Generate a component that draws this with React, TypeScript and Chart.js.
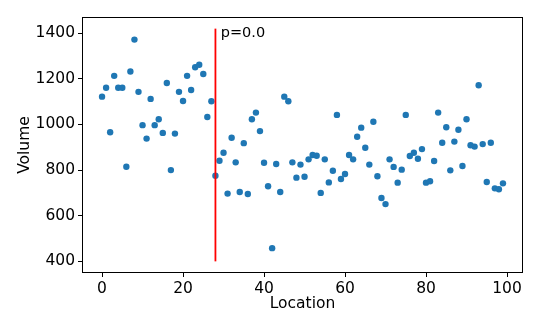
import React, { useEffect, useRef } from "react";
import { Chart, registerables } from "chart.js";

Chart.register(...registerables);

const locations = [
  0, 1, 2, 3, 4, 5, 6, 7, 8, 9, 10, 11, 12, 13, 14, 15, 16, 17, 18, 19,
  20, 21, 22, 23, 24, 25, 26, 27, 28, 29, 30, 31, 32, 33, 34, 35, 36, 37, 38, 39,
  40, 41, 42, 43, 44, 45, 46, 47, 48, 49, 50, 51, 52, 53, 54, 55, 56, 57, 58, 59,
  60, 61, 62, 63, 64, 65, 66, 67, 68, 69, 70, 71, 72, 73, 74, 75, 76, 77, 78, 79,
  80, 81, 82, 83, 84, 85, 86, 87, 88, 89, 90, 91, 92, 93, 94, 95, 96, 97, 98, 99,
];

const volumes = [
  1122, 1161, 966, 1213, 1161, 1161, 815, 1232, 1372, 1143,
  997, 938, 1112, 997, 1023, 963, 1182, 800, 960, 1143,
  1103, 1213, 1151, 1251, 1262, 1221, 1033, 1102, 775, 841,
  876, 697, 942, 834, 704, 918, 695, 1023, 1052, 971,
  832, 729, 458, 827, 704, 1122, 1102, 834, 767, 824,
  771, 847, 866, 863, 700, 847, 746, 797, 1042, 761,
  783, 866, 847, 946, 986, 898, 824, 1012, 773, 678,
  651, 847, 814, 745, 802, 1042, 862, 876, 850, 892,
  745, 751, 840, 1052, 920, 988, 799, 925, 977, 818,
  1023, 909, 903, 1172, 914, 748, 920, 720, 716, 742,
];

const changeLocation = 28;
const changeLineYs = [400, 1420];
const changeLabel = "p=0.0";

const xTicks = [0, 20, 40, 60, 80, 100];
const yTicks = [400, 600, 800, 1000, 1200, 1400];
const xRange = [-4.95, 103.95];
const yRange = [349, 1471];

const FONT = "DejaVu Sans";

const framePlugin = {
  id: "frameAndLabel",
  afterDatasetsDraw(chart: any) {
    const { ctx, chartArea, scales } = chart;
    ctx.save();
    ctx.strokeStyle = "#000";
    ctx.lineWidth = 1;
    ctx.strokeRect(
      Math.round(chartArea.left) + 0.5,
      Math.round(chartArea.top) + 0.5,
      Math.round(chartArea.right - chartArea.left) - 1,
      Math.round(chartArea.bottom - chartArea.top) - 1
    );
    const x = scales.x.getPixelForValue(changeLocation) + 5.3;
    const y = scales.y.getPixelForValue(changeLineYs[1]) + 8.6;
    ctx.fillStyle = "#000";
    ctx.font = `14.5px "${FONT}"`;
    ctx.textAlign = "left";
    ctx.textBaseline = "alphabetic";
    ctx.fillText(changeLabel, x, y);
    ctx.restore();
  },
};

export default function App() {
  const ref = useRef<HTMLCanvasElement | null>(null);

  useEffect(() => {
    if (!ref.current) return;
    const points = locations.map((l, i) => ({ x: l, y: volumes[i] }));
    const chart = new Chart(ref.current, {
      type: "scatter",
      data: {
        datasets: [
          {
            type: "scatter",
            data: points,
            backgroundColor: "#1f77b4",
            borderWidth: 0,
            pointRadius: 3.2,
            order: 2,
          } as any,
          {
            type: "line",
            data: changeLineYs.map((v) => ({ x: changeLocation, y: v })),
            borderColor: "#ff0000",
            borderWidth: 1.8,
            pointRadius: 0,
            showLine: true,
            fill: false,
            order: 1,
          } as any,
        ],
      },
      options: {
        animation: false,
        responsive: false,
        devicePixelRatio: 1,
        layout: { padding: { top: 17, right: 17, left: 0, bottom: 0 } },
        plugins: {
          legend: { display: false },
          tooltip: { enabled: false },
          title: { display: false },
        },
        scales: {
          x: {
            type: "linear",
            min: xRange[0],
            max: xRange[1],
            afterBuildTicks: (s: any) => {
              s.ticks = xTicks.map((v) => ({ value: v }));
            },
            afterFit: (s: any) => {
              s.height = 57;
            },
            border: { display: false },
            grid: {
              display: true,
              drawOnChartArea: false,
              drawTicks: true,
              tickLength: 4,
              tickColor: "#000",
              tickWidth: 1,
            },
            ticks: {
              color: "#000",
              padding: 3,
              maxRotation: 0,
              callback: (v: any) => String(v),
              font: { family: FONT, size: 15.5 },
            },
            title: {
              display: true,
              text: "Location",
              color: "#000",
              font: { family: FONT, size: 15.5 },
              padding: { top: 0, bottom: 16.8 },
            },
          },
          y: {
            type: "linear",
            min: yRange[0],
            max: yRange[1],
            afterBuildTicks: (s: any) => {
              s.ticks = yTicks.map((v) => ({ value: v }));
            },
            afterFit: (s: any) => {
              s.width = 82;
            },
            border: { display: false },
            grid: {
              display: true,
              drawOnChartArea: false,
              drawTicks: true,
              tickLength: 4,
              tickColor: "#000",
              tickWidth: 1,
            },
            ticks: {
              color: "#000",
              padding: 3,
              callback: (v: any) => String(v),
              font: { family: FONT, size: 15.5 },
            },
            title: {
              display: true,
              text: "Volume",
              color: "#000",
              font: { family: FONT, size: 15.5 },
              padding: { top: 16, bottom: 0 },
            },
          },
        },
      } as any,
      plugins: [framePlugin],
    });
    return () => chart.destroy();
  }, []);

  return (
    <div style={{ position: "absolute", left: 0, top: 0, width: 540, height: 330, background: "#fff" }}>
      <canvas ref={ref} width={540} height={330} style={{ display: "block", width: 540, height: 330 }} />
    </div>
  );
}
